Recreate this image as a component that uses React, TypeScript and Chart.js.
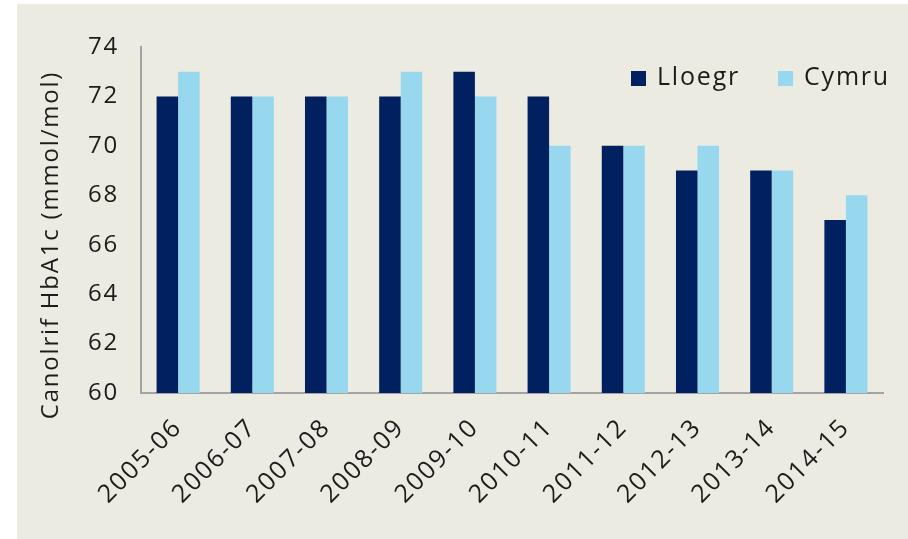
import React, { useEffect, useRef } from "react";
import { Chart, registerables } from "chart.js";

Chart.register(...registerables);

const categories = [
  "2005-06", "2006-07", "2007-08", "2008-09", "2009-10",
  "2010-11", "2011-12", "2012-13", "2013-14", "2014-15",
];
const lloegr = [72, 72, 72, 72, 73, 72, 70, 69, 69, 67];
const cymru = [73, 72, 72, 73, 72, 70, 70, 70, 69, 68];
const seriesNames = ["Lloegr", "Cymru"];
const seriesColors = ["#00205f", "#97d8ee"];
const yMin = 60;
const yMax = 74;
const yStep = 2;
const yTitle = "Canolrif HbA1c (mmol/mol)";

const FONT = "'Open Sans', sans-serif";
const TEXT = "#1c1c1c";
const SPACING = "1.8px";

const overlayPlugin = {
  id: "overlay",
  beforeInit(chart: any) {
    (chart.ctx as any).letterSpacing = SPACING;
  },
  beforeUpdate(chart: any) {
    (chart.ctx as any).letterSpacing = SPACING;
  },
  beforeDraw(chart: any) {
    (chart.ctx as any).letterSpacing = SPACING;
  },
  afterDraw(chart: any) {
    const { ctx, chartArea } = chart;
    ctx.save();
    ctx.letterSpacing = SPACING;
    // y-axis title
    ctx.font = `24px ${FONT}`;
    ctx.fillStyle = TEXT;
    ctx.textAlign = "center";
    ctx.textBaseline = "middle";
    ctx.translate(51, 245);
    ctx.rotate(-Math.PI / 2);
    ctx.fillText(yTitle, 0, 0);
    ctx.restore();

    // legend
    ctx.save();
    ctx.letterSpacing = SPACING;
    ctx.font = `25px ${FONT}`;
    ctx.textBaseline = "middle";
    ctx.textAlign = "left";
    const y = chartArea.top + 31;
    let x = chartArea.right + 7;
    const items = chart.data.datasets.map((d: any) => ({ label: d.label, color: d.backgroundColor }));
    for (let i = items.length - 1; i >= 0; i--) {
      const w = ctx.measureText(items[i].label).width;
      const textX = x - w;
      ctx.fillStyle = TEXT;
      ctx.fillText(items[i].label, textX, y);
      ctx.fillStyle = items[i].color;
      ctx.fillRect(textX - 26, y - 7, 15, 15);
      x = textX - 26 - 38;
    }
    ctx.restore();
  },
};

export default function App() {
  const ref = useRef<HTMLCanvasElement>(null);
  useEffect(() => {
    if (!ref.current) return;
    const chart = new Chart(ref.current, {
      type: "bar",
      data: {
        labels: categories,
        datasets: [
          { label: seriesNames[0], data: lloegr, backgroundColor: seriesColors[0] },
          { label: seriesNames[1], data: cymru, backgroundColor: seriesColors[1] },
        ],
      },
      options: {
        responsive: false,
        animation: false,
        layout: { padding: { left: 0, top: 47, right: 25, bottom: 0 } },
        datasets: { bar: { barPercentage: 1, categoryPercentage: 0.58 } },
        plugins: { legend: { display: false }, tooltip: { enabled: false } },
        scales: {
          x: {
            grid: { display: false, drawTicks: false },
            border: { display: true, color: "#a3a3a3", width: 2 },
            ticks: {
              color: TEXT,
              font: { family: FONT, size: 25 },
              maxRotation: 45,
              minRotation: 45,
              padding: 20,
              labelOffset: 0,
            },
            afterFit: (s: any) => { s.height = 146; },
          },
          y: {
            min: yMin,
            max: yMax,
            grid: { display: false, drawTicks: false },
            border: { display: true, color: "#a3a3a3", width: 2 },
            ticks: {
              stepSize: yStep,
              color: TEXT,
              font: { family: FONT, size: 24 },
              padding: 22,
            },
            afterFit: (s: any) => { s.width = 141; },
          },
        },
      },
      plugins: [overlayPlugin],
    });
    return () => chart.destroy();
  }, []);

  return (
    <div style={{ position: "absolute", left: 0, top: 0, width: 908, height: 539, background: "#ffffff", overflow: "hidden" }}>
      <div style={{ position: "absolute", left: 17, top: 4, right: 0, bottom: 0, background: "#ecebe1" }} />
      <canvas ref={ref} width={908} height={539} style={{ position: "absolute", left: 0, top: 0 }} />
    </div>
  );
}
